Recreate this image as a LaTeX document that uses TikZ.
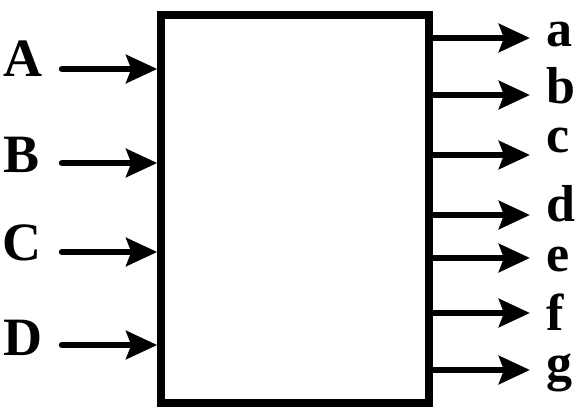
\documentclass[tikz,border=0pt]{standalone}
\usepackage{fontspec}
\setmainfont{Liberation Serif}
\usetikzlibrary{arrows.meta}
\begin{document}
\begin{tikzpicture}[x=1pt,y=-1pt,
  arr/.style={line width=6.5pt,-{Stealth[length=31pt,width=28pt,inset=5pt]}},
  inlbl/.style={anchor=base,inner sep=0pt,font=\fontsize{54}{54}\selectfont\bfseries},
  outlbl/.style={anchor=base west,inner sep=0pt,font=\fontsize{52}{52}\selectfont\bfseries},
  blk/.style={draw,line width=7.5pt,minimum width=268pt,minimum height=388pt,inner sep=0pt}]
\useasboundingbox (0,0) rectangle (582,420);
\node[blk] (box) at (295,209) {};
% inputs
\node[inlbl] (A) at (23,77) {A};
\node[inlbl] (B) at (22,172) {B};
\node[inlbl] (C) at (22,260) {C};
\node[inlbl] (D) at (23,355) {D};
\coordinate (iA) at (62,69);
\coordinate (iB) at (62,163);
\coordinate (iC) at (62,252);
\coordinate (iD) at (62,345);
\foreach \n in {iA,iB,iC,iD}
  \draw[arr,line cap=round] (\n) -- (box.west |- \n);
% outputs
\foreach \n/\y/\b in {a/38/47,b/95/103,c/155/153,d/215/222,e/258/271,f/313/330,g/370/380}{
  \coordinate (o\n) at (530,\y);
  \node[outlbl] (\n) at (546,\b) {\n};
  \draw[arr] (box.east |- o\n) -- (o\n);
}
\end{tikzpicture}
\end{document}
